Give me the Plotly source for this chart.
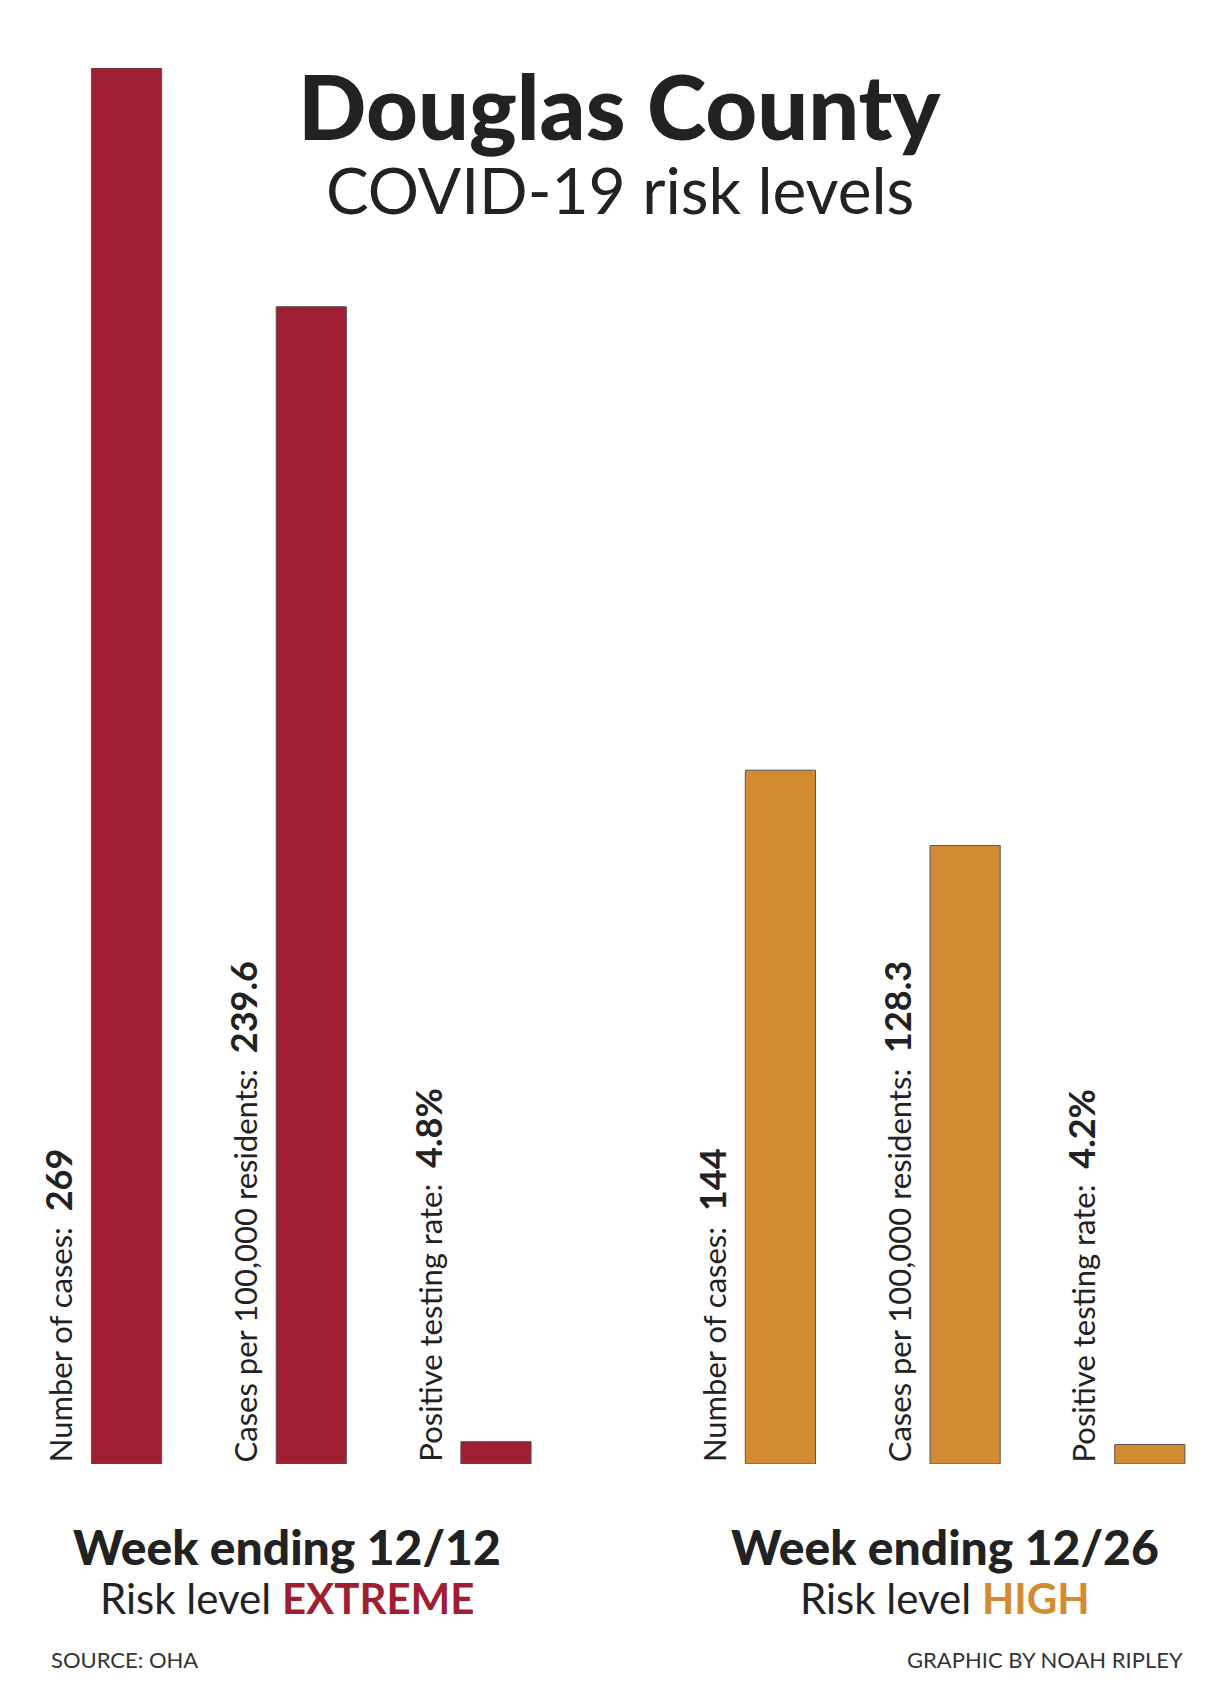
import plotly.graph_objects as go

metrics = ["Number of cases:", "Cases per 100,000 residents:", "Positive testing rate:"]
week1_values = ["269", "239.6", "4.8%"]
week2_values = ["144", "128.3", "4.2%"]
# bar heights as drawn (relative scale, tallest = 100)
week1_heights = [100, 82.9, 1.6]
week2_heights = [49.7, 44.3, 1.4]
weeks = ["Week ending 12/12", "Week ending 12/26"]
levels = ["EXTREME", "HIGH"]
colors = ["#A01E31", "#D38B31"]

W, H = 1224, 1693
S = H / 1563.0
TOP, BOT = 60, 237
plot_h = H - TOP - BOT

def py(y_shown):
    return (H - BOT - y_shown * S) / plot_h

def px(x_shown):
    return x_shown / 1130.0

group_gap = 3.54
fig = go.Figure()
ann = []
for g, (heights, vals) in enumerate([(week1_heights, week1_values), (week2_heights, week2_values)]):
    xs = [g * group_gap + i for i in range(3)]
    fig.add_trace(go.Bar(x=xs, y=heights, width=0.38, marker=dict(color=colors[g], line=dict(color="#555", width=1)), showlegend=False, hoverinfo="skip"))
    for x, m, v in zip(xs, metrics, vals):
        ann.append(dict(x=x - 0.37, y=0, xref="x", yref="y", textangle=-90, xanchor="center", yanchor="bottom",
                        text=f"{m}  <b><span style='font-size:36px'>{v}</span></b>", showarrow=False,
                        font=dict(family="Lato", size=31, color="#222")))

fig.add_annotation(x=0.5, y=py(90), xref="paper", yref="paper", text="Douglas County", showarrow=False,
                   xanchor="center", font=dict(family="Lato", size=90, color="#222", weight=900), yanchor="middle")
fig.add_annotation(x=0.5, y=py(168), xref="paper", yref="paper", text="COVID-19 risk levels", showarrow=False,
                   xanchor="center", font=dict(family="Lato", size=64, color="#222"), yanchor="middle")
for g, cx in enumerate([258, 865]):
    fig.add_annotation(x=px(cx), y=py(1420), xref="paper", yref="paper", text=weeks[g], showarrow=False,
                       xanchor="center", font=dict(family="Lato", size=48, color="#222", weight=900), yanchor="middle")
    fig.add_annotation(x=px(cx), y=py(1468), xref="paper", yref="paper",
                       text=f"Risk level <b><span style='color:{colors[g]}'>{levels[g]}</span></b>", showarrow=False,
                       xanchor="center", font=dict(family="Lato", size=42, color="#222"), yanchor="middle")
fig.add_annotation(x=px(38), y=py(1525), xref="paper", yref="paper", text="SOURCE: OHA", showarrow=False,
                   xanchor="left", yanchor="middle", font=dict(family="Lato", size=22, color="#333"))
fig.add_annotation(x=px(1087), y=py(1525), xref="paper", yref="paper", text="GRAPHIC BY NOAH RIPLEY", showarrow=False,
                   xanchor="right", yanchor="middle", font=dict(family="Lato", size=22, color="#333"))
for a in ann:
    fig.add_annotation(**a)

fig.update_layout(width=W, height=H, margin=dict(l=0, r=0, t=TOP, b=BOT), plot_bgcolor="white", paper_bgcolor="white",
                  xaxis=dict(range=[-0.642, 5.985], visible=False, fixedrange=True),
                  yaxis=dict(range=[0, 100], visible=False, fixedrange=True))
fig.write_html("out.html")
